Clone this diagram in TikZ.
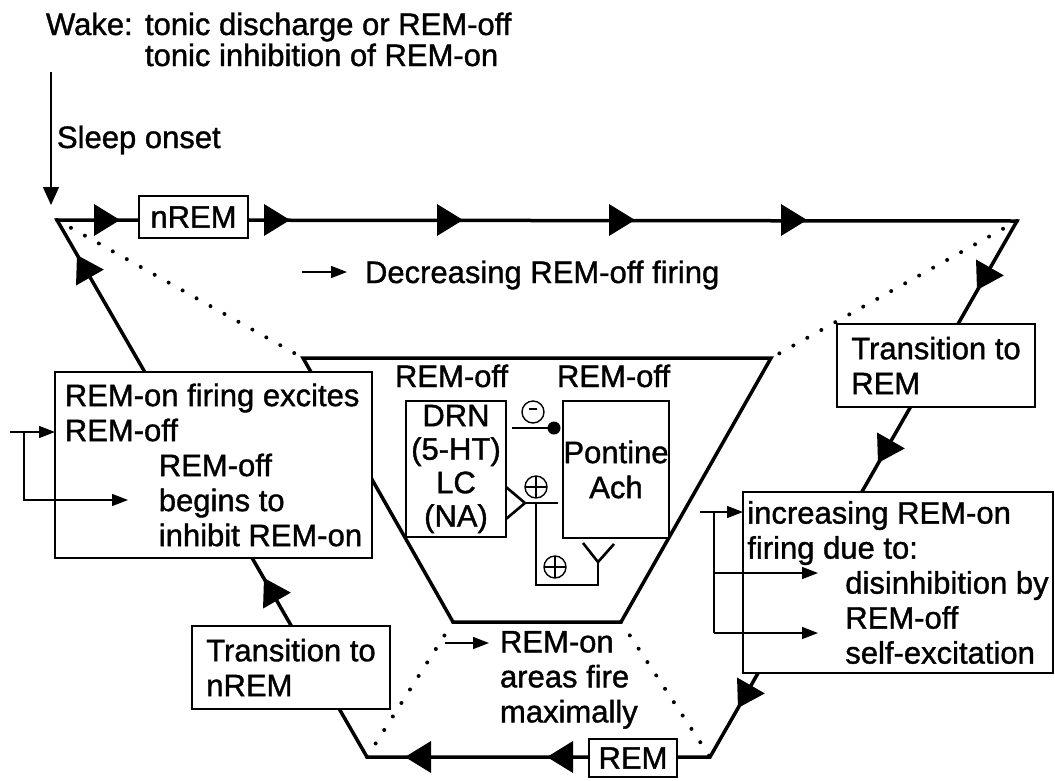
\documentclass[tikz,border=0pt]{standalone}
\usepackage{fontspec}
\setmainfont{Liberation Sans}[FakeBold=1.2]
\usetikzlibrary{arrows.meta}
\begin{document}
\begin{tikzpicture}[x=1pt,y=-1pt,
  every node/.style={inner sep=0pt, outer sep=0pt, font=\fontsize{31}{35}\selectfont},
  cyc/.style={line width=3.5pt, line join=miter},
  dots/.style={line width=4pt, line cap=round, dash pattern=on 0pt off 16pt},
  box/.style={draw, line width=1.4pt, fill=white, align=left, anchor=north west},
  lbl/.style={anchor=base west},
  thin/.style={line width=1.4pt},
  thick2/.style={line width=2.6pt},
  sarr/.style={thin, -{Triangle[length=16pt,width=12pt]}},
  bigtip/.pic={\fill (0,0) -- (-26,-16) -- (-26,16) -- cycle;},
  plussign/.pic={\draw[thin] (0,0) circle (11pt); \draw[thin] (-11,0) -- (11,0) (0,-11) -- (0,11);},
  minussign/.pic={\draw[thin] (0,0) circle (11pt); \draw[line width=2pt] (-4,-3) -- (4,-3);}
]
\useasboundingbox (0,0) rectangle (1055,780);

% corners of the outer cycle and of the inner trapezoid
\coordinate (tl) at (57,220);
\coordinate (tr) at (1017,221);
\coordinate (br) at (710,757);
\coordinate (bl) at (367,757);
\coordinate (itl) at (303,358);
\coordinate (itr) at (771,358);
\coordinate (ibr) at (621,622);
\coordinate (ibl) at (453,622);

% dotted links between the two figures
\draw[dots] (tl) -- (itl);
\draw[dots] (tr) -- (itr);
\draw[dots] (ibl) -- (bl);
\draw[dots] (ibr) -- (br);

% sleep cycle and inner trapezoid
\draw[cyc] (tl) -- (tr) -- (br) -- (bl) -- cycle;
\draw[cyc] (itl) -- (itr) -- (ibr) -- (ibl) -- cycle;

% boxes on the cycle
\node[box, align=center, minimum width=109pt, minimum height=42pt] (nrem) at (139,196) {nREM};
\node[box, align=center, minimum width=88pt, minimum height=38pt] (rem) at (589,739) {REM};
\node[box, minimum width=198pt, minimum height=83pt] (torem) at (837,324) {Transition to\\REM};
\node[box, minimum width=198pt, minimum height=83pt] (tonrem) at (192,626) {Transition to\\nREM};
\node[box, minimum width=317pt, minimum height=186pt] (remon) at (55,372)
  {REM-on firing excites\\REM-off\\\hspace*{94pt}REM-off\\\hspace*{94pt}begins to\\\hspace*{94pt}inhibit REM-on};
\node[box, minimum width=310pt, minimum height=181pt] (inc) at (743,492)
  {increasing REM-on\\firing due to:\\\hspace*{98pt}disinhibition by\\\hspace*{98pt}REM-off\\\hspace*{98pt}self-excitation};

% brainstem populations
\node[box, align=center, minimum width=100pt, minimum height=136pt,
      font=\fontsize{31}{33.5}\selectfont] (drn) at (406,401) {DRN\\(5-HT)\\LC\\(NA)};
\node[box, align=center, minimum width=106pt, minimum height=137pt] (pont) at (563,401) {Pontine\\Ach};
\node[lbl] (off1) at (395,387) {REM-off};
\node[lbl] (off2) at (557,387) {REM-off};

% inhibitory synapse DRN/LC -> pontine
\coordinate (inhdot) at (554,428);
\draw[thin, shorten <=6pt] (drn.east |- inhdot) -- (inhdot);
\fill (inhdot) circle (6.5pt);
\pic at (533,412) {minussign};

% excitatory synapses
\coordinate (fork) at (525,503);
\draw[thick2] (drn.east |- 0,487) -- (fork) -- (drn.east |- 0,519);
\draw[thin] (fork) -- (558,503);
\coordinate (ystem) at (598,562);
\draw[thin] (536,503) -- (536,585) -- (598,585) -- (ystem);
\draw[thick2] (583,543) -- (ystem) -- (614,544);
\pic at (536,487) {plussign};
\pic at (555,567) {plussign};

% direction of the cycle
\foreach \x in {120,290,463,635,807} \pic at (\x,220) {bigtip};
\pic[rotate=240.2] at (977,290) {bigtip};
\pic[rotate=240.2] at (878,463) {bigtip};
\pic[rotate=240.2] at (738,708) {bigtip};
\pic[rotate=180] at (405,757) {bigtip};
\pic[rotate=180] at (547,757) {bigtip};
\pic[rotate=119.8] at (264,578) {bigtip};
\pic[rotate=119.8] at (77,255) {bigtip};

% side arrows into the text boxes
\coordinate (la) at (10,432);
\draw[sarr] (la) -- (la -| remon.west);
\coordinate (lv) at (24,432);
\coordinate (lb) at (24,500);
\coordinate (lt) at (128,500);
\draw[sarr] (lv) -- (lb) -- (lt);

\coordinate (ra) at (700,512);
\draw[sarr] (ra) -- (ra -| inc.west);
\coordinate (rv) at (714,512);
\coordinate (r1) at (714,573);
\coordinate (r2) at (714,633);
\draw[thin] (rv) -- (r2);
\draw[sarr] (r1) -- (818,573);
\draw[sarr] (r2) -- (818,633);

% wake / sleep onset
\node[lbl] (wake) at (46,35) {\makebox[99pt][l]{Wake:}tonic discharge or REM-off};
\node[lbl] (wake2) at (145,66) {tonic inhibition of REM-on};
\node[lbl] (sleep) at (57,148) {Sleep onset};
\coordinate (s0) at (51,72);
\coordinate (s1) at (51,205);
\draw[thin, -{Triangle[length=18pt,width=16pt]}] (s0) -- (s1);

% inner annotations
\coordinate (d0) at (302,272);
\node[lbl] (decr) at (365,283) {Decreasing REM-off firing};
\draw[sarr] (d0) -- (347,272);
\coordinate (a0) at (445,643);
\node[anchor=north west, align=left] (areas) at (500,631) {REM-on\\areas fire\\maximally};
\draw[sarr] (a0) -- (489,643);
\end{tikzpicture}
\end{document}
